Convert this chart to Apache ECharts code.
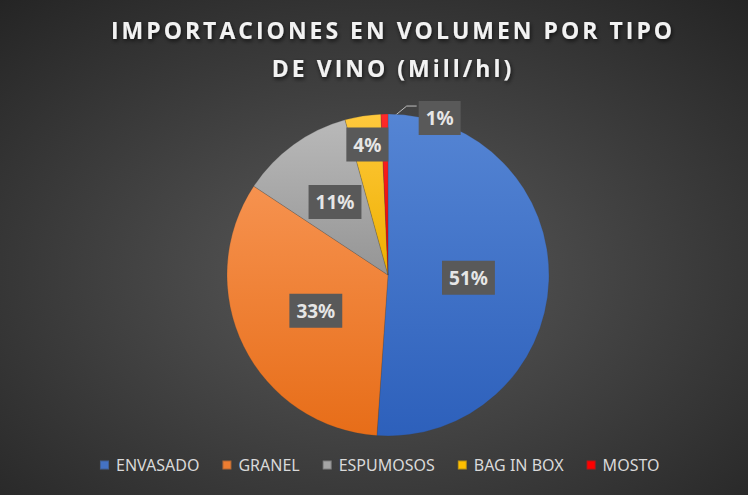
<!DOCTYPE html>
<html>
<head>
<meta charset="utf-8">
<script src="https://cdn.jsdelivr.net/npm/echarts@6/dist/echarts.min.js"></script>
<style>
  html, body { margin: 0; padding: 0; background: #262626; }
  #chart { width: 748px; height: 495px; }
  #chart text[style*="Open Sans"] { letter-spacing: 3px; }
</style>
</head>
<body>
<div id="chart"></div>
<script>
// ---- data ----
const categories = ['ENVASADO', 'GRANEL', 'ESPUMOSOS', 'BAG IN BOX', 'MOSTO'];
const values = [51.1, 33.2, 11.4, 3.6, 0.7];
const titleText = 'IMPORTACIONES EN VOLUMEN POR TIPO\nDE VINO (Mill/hl)';

// ---- styles ----
const sliceColors = [
  ['#5585d4', '#2d60bb'],
  ['#f6924f', '#e76d18'],
  ['#b9b9b9', '#959595'],
  ['#ffc93d', '#eeb000'],
  ['#ff2a2a', '#e40000']
];
const legendColors = ['#4472c4', '#ed7d31', '#a5a5a5', '#ffc000', '#ff0000'];
// relative radius at which each inside label sits (fraction of radius)
const labelRadiusFrac = [0.5, 0.5, 0.56, 0.82];

const CX = 388, CY = 275, R = 161;

const total = values.reduce((a, b) => a + b, 0);
const midAngles = [];
{
  let acc = 0;
  values.forEach(v => { midAngles.push((acc + v / 2) / total * 2 * Math.PI); acc += v; });
}

const labelBase = {
  color: '#e6e6e6',
  fontSize: 19,
  fontWeight: 'bold',
  fontFamily: 'Noto Sans',
  backgroundColor: '#595959',
  padding: [6, 7],
  lineHeight: 22
};

const data = categories.map((name, i) => ({
  name: name,
  value: values[i],
  itemStyle: {
    color: {
      type: 'linear', x: 0, y: 0, x2: 0, y2: 1,
      colorStops: [{ offset: 0, color: sliceColors[i][0] }, { offset: 1, color: sliceColors[i][1] }]
    }
  },
  label: i === 4 ? { position: 'outside' } : { position: 'inside' },
  labelLine: i === 4 ? { show: true } : { show: false }
}));

const chart = echarts.init(document.getElementById('chart'), null, { renderer: 'svg' });
chart.setOption({
  animation: false,
  backgroundColor: {
    type: 'radial', x: 0.5, y: 0.55, r: 0.75,
    colorStops: [
      { offset: 0, color: '#5a5a5a' },
      { offset: 1, color: '#242424' }
    ]
  },
  color: legendColors,
  title: {
    text: titleText,
    left: 388,
    textAlign: 'center',
    top: 6,
    textStyle: {
      color: '#f2f2f2',
      fontSize: 23,
      fontWeight: 'bold',
      fontFamily: 'Open Sans',
      lineHeight: 38,
      textShadowColor: 'rgba(0,0,0,0.7)',
      textShadowBlur: 4,
      textShadowOffsetX: 1,
      textShadowOffsetY: 2
    }
  },
  legend: {
    data: categories.map((c, i) => ({ name: c, itemStyle: { color: legendColors[i] } })),
    top: 456,
    left: 99,
    padding: 0,
    icon: 'rect',
    itemWidth: 9,
    itemHeight: 9,
    itemGap: 22,
    textStyle: { color: '#d9d9d9', fontSize: 16, lineHeight: 18, fontFamily: 'Noto Sans', padding: [0, 0, 0, 2] }
  },
  series: [{
    type: 'pie',
    center: [CX, CY],
    radius: R,
    startAngle: 90,
    clockwise: true,
    avoidLabelOverlap: false,
    data: data,
    itemStyle: { borderColor: 'rgba(60,60,60,0.35)', borderWidth: 0.6 },
    label: Object.assign({
      formatter: p => Math.round(p.percent) + '%'
    }, labelBase),
    labelLine: { lineStyle: { color: '#bfbfbf', width: 1 }, length: 10, length2: 10 },
    labelLayout: function (p) {
      const i = p.dataIndex;
      const a = midAngles[i];
      const sx = Math.sin(a), sy = -Math.cos(a);
      if (i < 4) {
        const rr = R * labelRadiusFrac[i];
        return { x: CX + rr * sx, y: CY + rr * sy, align: 'center', verticalAlign: 'middle' };
      }
      const p0 = [CX + (R - 10) * sx, CY + (R - 10) * sy];
      const p1 = [p0[0] + 22, p0[1] - 18];
      const p2 = [p1[0] + 10, p1[1]];
      return {
        x: p2[0] + 2, y: p1[1] + 12, align: 'left', verticalAlign: 'middle',
        labelLinePoints: [p0, p1, p2]
      };
    }
  }]
});
</script>
</body>
</html>
